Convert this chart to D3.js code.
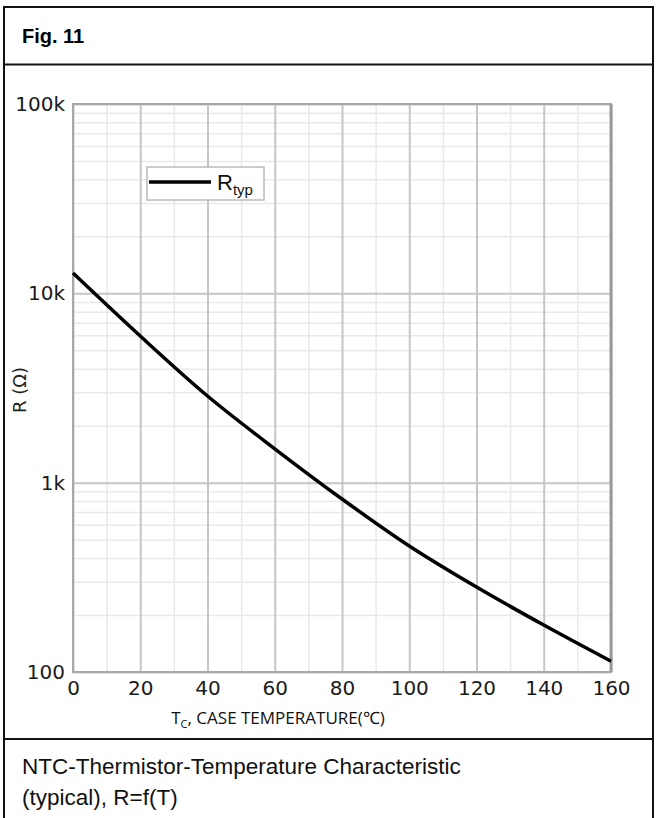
<!DOCTYPE html>
<html>
<head>
<meta charset="utf-8">
<script src="https://cdn.jsdelivr.net/npm/d3@7"></script>
<style>
  html, body { margin: 0; padding: 0; background: #fff; }
  svg { display: block; }
</style>
</head>
<body>
<svg id="chart" width="657" height="818"></svg>
<script>
// data
var temps = [0, 20, 40, 60, 80, 100, 120, 140, 160];
var rTyp = [12800, 5950, 2870, 1510, 820, 463, 281, 177, 114];
var xTicks = [0, 20, 40, 60, 80, 100, 120, 140, 160];
var xMinor = [10, 30, 50, 70, 90, 110, 130, 150];
var yTicks = [100, 1000, 10000, 100000];
var yTickLabels = ["100", "1k", "10k", "100k"];

var svg = d3.select("#chart");

//outer frame: header, chart, caption
svg.append("rect")
    .attr("x", 4).attr("y", 7)
    .attr("width", 649).attr("height", 830)
    .attr("fill", "none").attr("stroke", "#111").attr("stroke-width", 2);
svg.append("line").attr("x1", 4).attr("x2", 653).attr("y1", 64.5).attr("y2", 64.5)
    .attr("stroke", "#111").attr("stroke-width", 2);
svg.append("line").attr("x1", 4).attr("x2", 653).attr("y1", 739).attr("y2", 739)
    .attr("stroke", "#111").attr("stroke-width", 2);

svg.append("text").attr("x", 22).attr("y", 43)
    .style("font", "bold 20px 'Liberation Sans', Arial, sans-serif")
    .text("Fig. 11");

var cap = svg.append("text")
    .style("font", "22.5px 'Liberation Sans', Arial, sans-serif")
    .attr("fill", "#111");
cap.append("tspan").attr("x", 22).attr("y", 774).text("NTC-Thermistor-Temperature Characteristic");
cap.append("tspan").attr("x", 22).attr("y", 805).text("(typical), R=f(T)");

// plot area
var margin = {left: 73, top: 104, right: 611, bottom: 672};
var width = margin.right - margin.left;
var height = margin.bottom - margin.top;

var x = d3.scaleLinear().domain([0, 160]).range([margin.left, margin.right]);
var y = d3.scaleLog().domain([100, 100000]).range([margin.bottom, margin.top]);

// minor grid
var yMinor = [];
[100, 1000, 10000].forEach(function (d) {
    for (var k = 2; k <= 9; k++) yMinor.push(d * k);
});

svg.append("g")
    .attr("transform", "translate(0," + margin.bottom + ")")
    .call(d3.axisBottom(x).tickValues(xMinor).tickSize(-height).tickFormat(""))
    .call(function (g) { g.select(".domain").remove(); })
    .selectAll("line").attr("stroke", "#e9e9e9").attr("stroke-width", 1.5);

svg.append("g")
    .attr("transform", "translate(" + margin.left + ",0)")
    .call(d3.axisLeft(y).tickValues(yMinor).tickSize(-width).tickFormat(""))
    .call(function (g) { g.select(".domain").remove(); })
    .selectAll("line").attr("stroke", "#e9e9e9").attr("stroke-width", 1.5);

// major grid
svg.append("g")
    .attr("transform", "translate(0," + margin.bottom + ")")
    .call(d3.axisBottom(x).tickValues(xTicks).tickSize(-height).tickFormat(""))
    .call(function (g) { g.select(".domain").remove(); })
    .selectAll("line").attr("stroke", "#c6c6c6").attr("stroke-width", 2);

svg.append("g")
    .attr("transform", "translate(" + margin.left + ",0)")
    .call(d3.axisLeft(y).tickValues(yTicks).tickSize(-width).tickFormat(""))
    .call(function (g) { g.select(".domain").remove(); })
    .selectAll("line").attr("stroke", "#c6c6c6").attr("stroke-width", 2);

// frame
svg.append("rect")
    .attr("x", margin.left).attr("y", margin.top)
    .attr("width", width).attr("height", height)
    .attr("fill", "none").attr("stroke", "#a8a8a8").attr("stroke-width", 2);
svg.append("line")
    .attr("x1", margin.right).attr("x2", margin.right)
    .attr("y1", margin.top).attr("y2", margin.bottom)
    .attr("stroke", "#999").attr("stroke-width", 3);

// tick labels
var xAxis = svg.append("g")
    .attr("transform", "translate(0," + margin.bottom + ")")
    .call(d3.axisBottom(x).tickValues(xTicks).tickSize(0).tickPadding(9));
xAxis.select(".domain").remove();
xAxis.selectAll("text")
    .style("font", "20px 'DejaVu Sans', sans-serif").attr("fill", "#1a1a1a")
    .attr("dy", "0.71em");

var yAxis = svg.append("g")
    .attr("transform", "translate(" + margin.left + ",0)")
    .call(d3.axisLeft(y).tickValues(yTicks).tickSize(0).tickPadding(8)
        .tickFormat(function (d, i) { return yTickLabels[i]; }));
yAxis.select(".domain").remove();
yAxis.selectAll("text")
    .style("font", "20px 'DejaVu Sans', sans-serif").attr("fill", "#1a1a1a");

// axis titles
svg.append("text")
    .attr("transform", "translate(26," + 390 + ") rotate(-90)")
    .attr("text-anchor", "middle")
    .style("font", "18px 'DejaVu Sans', sans-serif").attr("fill", "#222")
    .text("R (Ω)");

var xt = svg.append("text")
    .attr("x", 278).attr("y", 724)
    .attr("text-anchor", "middle")
    .style("font", "17px 'Open Sans', sans-serif").attr("fill", "#111");
xt.append("tspan").text("T");
xt.append("tspan").attr("dy", 4).style("font-size", "11px").text("C");
xt.append("tspan").attr("dy", -4).text(", CASE TEMPERATURE(℃)");

// the curve
var line = d3.line()
    .x(function (d, i) { return x(temps[i]); })
    .y(function (d) { return y(d); })
    .curve(d3.curveCatmullRom);

svg.append("path")
    .datum(rTyp)
    .attr("fill", "none")
    .attr("stroke", "#000")
    .attr("stroke-width", 3.5)
    .attr("d", line);

// legend
var legend = svg.append("g");
legend.append("rect")
    .attr("x", 147).attr("y", 167).attr("width", 117).attr("height", 33)
    .attr("fill", "#fff").attr("stroke", "#bbb").attr("stroke-width", 1.5);
legend.append("line")
    .attr("x1", 149).attr("x2", 211).attr("y1", 182).attr("y2", 182)
    .attr("stroke", "#000").attr("stroke-width", 3.5);
var lt = legend.append("text")
    .attr("x", 217).attr("y", 190)
    .style("font", "22px 'Liberation Sans', Arial, sans-serif").attr("fill", "#111");
lt.append("tspan").text("R");
lt.append("tspan").attr("dy", 5).style("font-size", "15px").text("typ");
</script>
</body>
</html>
